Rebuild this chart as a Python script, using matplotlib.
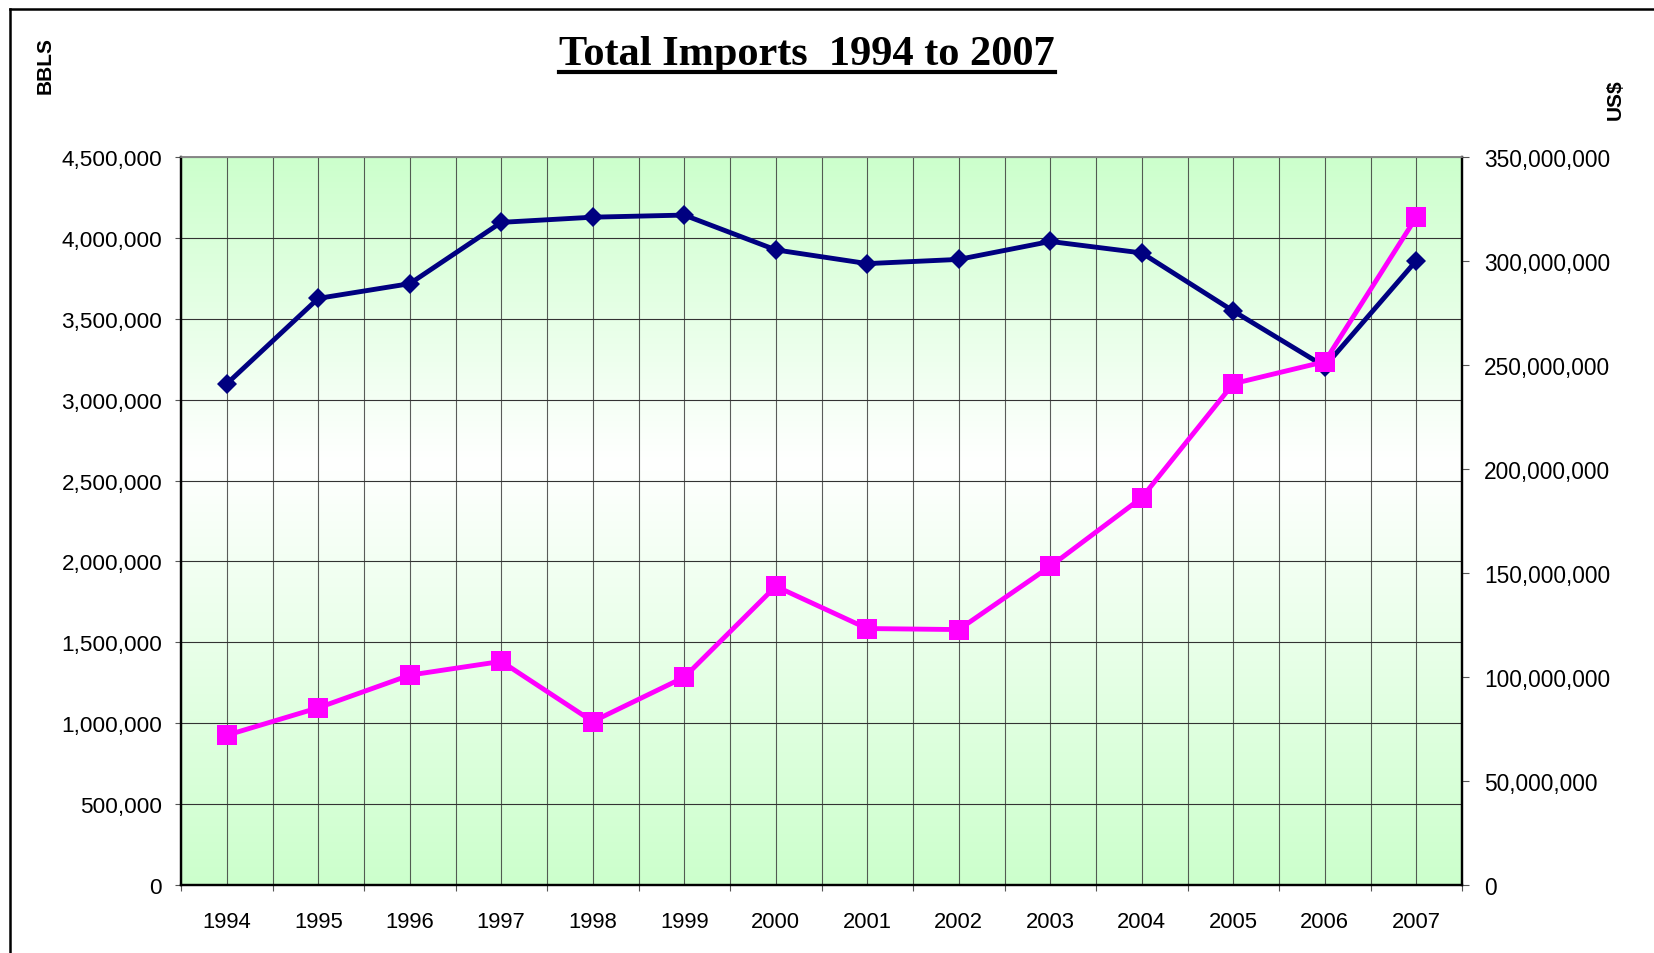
import numpy as np
import matplotlib
matplotlib.use("Agg")
import matplotlib.pyplot as plt
from matplotlib.ticker import FuncFormatter, MultipleLocator
from matplotlib.lines import Line2D
from matplotlib.colors import LinearSegmentedColormap

years = ["1994", "1995", "1996", "1997", "1998", "1999", "2000",
         "2001", "2002", "2003", "2004", "2005", "2006", "2007"]
bbls = [3098000, 3626000, 3717000, 4096000, 4128000, 4141000, 3926000,
        3841000, 3867000, 3978000, 3907000, 3548000, 3205000, 3859000]
usd = [72000000, 85200000, 100900000, 107500000, 78600000, 99900000, 143600000,
       123300000, 122800000, 153200000, 186200000, 241000000, 251600000, 321000000]

title = "Total Imports  1994 to 2007"
left_label = "BBLS"
right_label = "US$"

W, H = 1654, 954
fig = plt.figure(figsize=(W / 100, H / 100), dpi=100)
fig.patch.set_facecolor("white")

L, R, T, B = 181, 1462, 158, 886
ax = fig.add_axes([L / W, 1 - B / H, (R - L) / W, (B - T) / H])
ax2 = ax.twinx()

x = np.arange(len(years))
ax.set_xlim(-0.5, len(years) - 0.5)
ax.set_ylim(0, 4500000)
ax2.set_ylim(0, 350000000)

# background gradient
green = "#ccffcc"
cmap = LinearSegmentedColormap.from_list("bg", [(0, green), (0.58, "#ffffff"), (1, green)])
grad = np.linspace(0, 1, 256).reshape(-1, 1)
ax.imshow(grad, cmap=cmap, aspect="auto", origin="lower",
          extent=[-0.5, len(years) - 0.5, 0, 4500000], zorder=0)

# gridlines
gc = "#333333"
for v in np.arange(500000, 4500001, 500000):
    ax.axhline(v, color=gc, lw=0.8, zorder=1)
for xv in np.arange(-0.5, len(years), 0.5):
    ax.axvline(xv, color=gc, lw=0.8, alpha=0.8, zorder=1)

ax2.plot(x, usd, color="#ff00ff", lw=3.5, marker="s", markersize=14.5,
         markeredgewidth=0, zorder=5)
ax.plot(x, bbls, color="#000080", lw=3.5, marker="D", markersize=10,
        markeredgewidth=0, zorder=4)
ax.set_zorder(1)
ax2.set_zorder(2)
ax2.patch.set_visible(False)

fmt = FuncFormatter(lambda v, p: f"{int(round(v)):,}")
ax.yaxis.set_major_locator(MultipleLocator(500000))
ax.yaxis.set_major_formatter(fmt)
ax2.yaxis.set_major_locator(MultipleLocator(50000000))
ax2.yaxis.set_major_formatter(fmt)

ax.set_xticks(np.arange(-0.5, len(years), 1.0))
ax.set_xticklabels([])
ax.set_xticks(x, minor=True)
ax.set_xticklabels(years, minor=True)
ax.tick_params(axis="x", which="major", direction="out", length=4.5, width=0.8, color="#555555")
ax.tick_params(axis="x", which="minor", length=0, pad=19, labelsize=15.8)
ax.tick_params(axis="y", direction="out", length=4.5, width=0.8, color="#555555", pad=9, labelsize=16.2)
ax2.tick_params(axis="y", direction="out", length=5, width=0.8, color="#555555", pad=11, labelsize=16.4)
for a in (ax, ax2):
    for lab in a.get_xticklabels(which="both") + a.get_yticklabels():
        lab.set_fontfamily("Liberation Sans")

for a in (ax, ax2):
    a.spines["top"].set_color("#888888")
    a.spines["top"].set_linewidth(1.2)
    for s in ("left", "right", "bottom"):
        a.spines[s].set_color("black")
        a.spines[s].set_linewidth(1.6)

# title with underline
t = fig.text(807 / W, 1 - 65 / H, title, ha="center", va="baseline",
             fontsize=30.5, fontweight="bold", family="Liberation Serif")
fig.canvas.draw()
bb = t.get_window_extent()
fig.add_artist(Line2D([bb.x0 / W, bb.x1 / W], [1 - 73 / H, 1 - 73 / H],
                      color="black", lw=3.0, transform=fig.transFigure))

fig.text(45 / W, 1 - 66 / H, left_label, rotation=90, ha="center", va="center",
         fontsize=15, fontweight="bold", family="Liberation Sans")
fig.text(1615 / W, 1 - 100 / H, right_label, rotation=90, ha="center", va="center",
         fontsize=15, fontweight="bold", family="Liberation Sans")

# figure frame (top and left edges visible)
fig.add_artist(Line2D([10 / W, 1.0], [1 - 10 / H, 1 - 10 / H], color="black", lw=1.8,
                      transform=fig.transFigure))
fig.add_artist(Line2D([10 / W, 10 / W], [0, 1 - 10 / H], color="black", lw=1.8,
                      transform=fig.transFigure))

fig.savefig("out.png", dpi=100)
